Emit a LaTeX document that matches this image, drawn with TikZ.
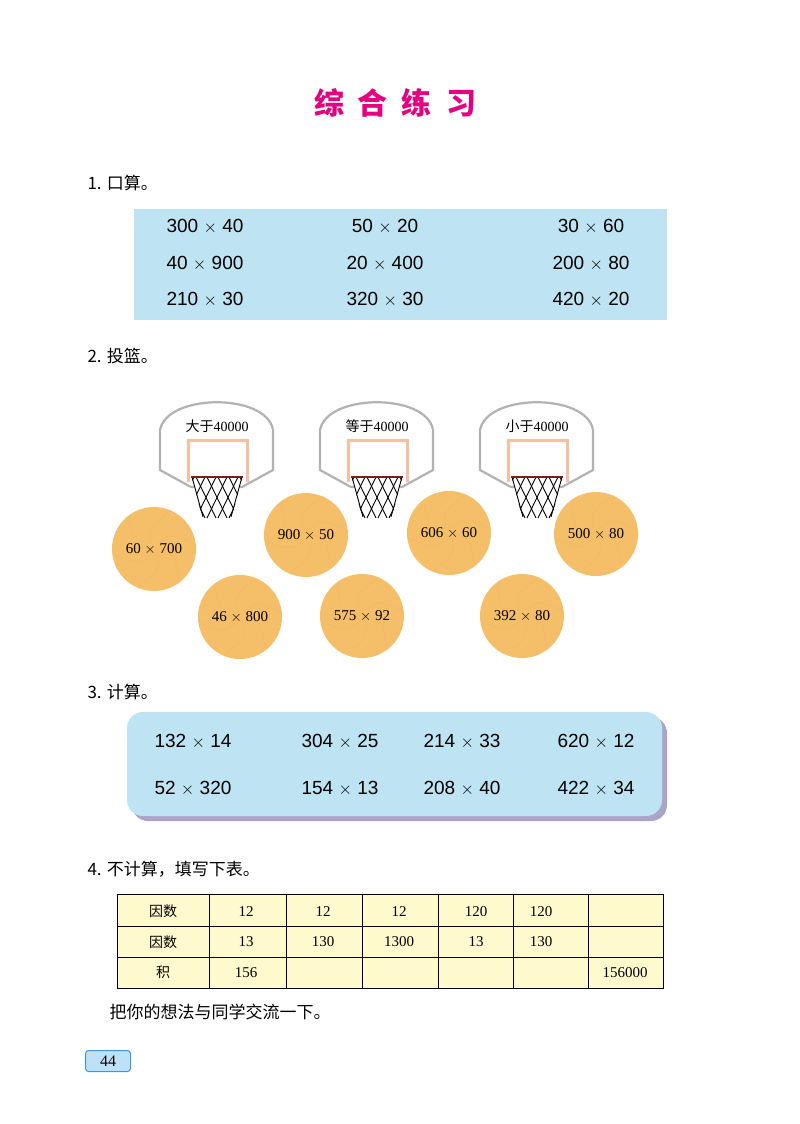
\documentclass[tikz,border=0pt]{standalone}
\usepackage{fontspec}
\setmainfont{Liberation Serif}
\setsansfont{Liberation Sans}
\newfontfamily\cjk{Noto Sans CJK SC}
\begin{document}
\begin{tikzpicture}[x=1pt,y=-1pt,
  sec/.style={anchor=west,font=\cjk\fontsize{17}{20}\selectfont},
  calc/.style={font=\sffamily\fontsize{19}{22}\selectfont},
  ball/.style={circle,fill=ballc,minimum size=84pt,inner sep=0pt},
  cell/.style={font=\fontsize{15}{18}\selectfont},
  hcell/.style={font=\cjk\fontsize{14}{16}\selectfont},
  board/.style={draw=gray!60,line width=2.2pt,fill=white}]
\definecolor{boxblue}{RGB}{190,228,243}
\definecolor{ballc}{RGB}{245,190,105}
\definecolor{tabc}{RGB}{255,250,205}
\definecolor{mag}{RGB}{228,0,127}
\useasboundingbox (0,0) rectangle (800,1124);
\node[font=\cjk\bfseries\fontsize{30}{34}\selectfont,text=mag] (title) at (395,103) {综\hspace{14pt}合\hspace{14pt}练\hspace{14pt}习};
\node[sec] (s1) at (84,183) {1. 口算。};
\fill[boxblue] (134,209) rectangle (667,320);
\node[calc] (a1) at (205,227) {300 $\times$ 40};
\node[calc] (a2) at (385,227) {50 $\times$ 20};
\node[calc] (a3) at (591,227) {30 $\times$ 60};
\node[calc] (a4) at (205,264) {40 $\times$ 900};
\node[calc] (a5) at (385,264) {20 $\times$ 400};
\node[calc] (a6) at (591,264) {200 $\times$ 80};
\node[calc] (a7) at (205,300) {210 $\times$ 30};
\node[calc] (a8) at (385,300) {320 $\times$ 30};
\node[calc] (a9) at (591,300) {420 $\times$ 20};
\node[sec] (s2) at (84,356) {2. 投篮。};
\foreach \cx/\t [count=\i] in {217/大于,377/等于,537/小于}{
  \draw[board] (\cx-57,470) -- (\cx-57,430) .. controls (\cx-50,393) and (\cx+50,393) .. (\cx+56,430) -- (\cx+56,470) -- (\cx+25,487) -- (\cx-26,487) -- cycle;
  \draw[draw={rgb,255:red,247;green,190;blue,160},line width=3pt] (\cx-29,482) -- (\cx-29,440) -- (\cx+30,440) -- (\cx+30,482);
  \node[font=\fontsize{14}{16}\selectfont] (b\i) at (\cx,426) {{\cjk\t}40000};
  \begin{scope}
    \clip (\cx-25.5,477) -- (\cx+25.5,477) -- (\cx+14.5,518) -- (\cx-14.5,518) -- cycle;
    \fill[white] (\cx-25.5,477) -- (\cx+25.5,477) -- (\cx+14.5,518) -- (\cx-14.5,518) -- cycle;
    \foreach \k in {-5,...,5}{
      \draw[line width=0.9pt] (\cx+\k*11-10,477) -- (\cx+\k*11+10,518);
      \draw[line width=0.9pt] (\cx+\k*11+10,477) -- (\cx+\k*11-10,518);
    }
  \end{scope}
  \draw[line width=0.9pt] (\cx-25,477) -- (\cx-14,517) (\cx+25,477) -- (\cx+14,517);
  \draw[draw={rgb,255:red,120;green,30;blue,30},line width=1.6pt] (\cx-26,477) -- (\cx+26,477);
}
\foreach \x/\y/\t [count=\i] in {154/549/60 $\times$ 700,240/617/46 $\times$ 800,306/535/900 $\times$ 50,362/616/575 $\times$ 92,449/533/606 $\times$ 60,522/616/392 $\times$ 80,596/534/500 $\times$ 80}{
  \node[ball] (ball\i) at (\x,\y) {};
  \foreach \a in {0,60,...,300}{
    \draw[ballc!80!brown,opacity=0.35,line width=0.5pt] (\x,\y) ++(\a:6) .. controls ++(\a+20:16) .. ++(\a+60:38);
  }
  \node[font=\fontsize{15}{18}\selectfont] (bt\i) at (\x,\y) {\t};
}
\node[sec] (s3) at (84,692) {3. 计算。};
\fill[rounded corners=16pt,fill={rgb,255:red,170;green,165;blue,200}] (132,717) rectangle (667,821);
\fill[rounded corners=16pt,boxblue] (127,712) rectangle (662,816);
\node[calc] (c1) at (193,742) {132 $\times$ 14};
\node[calc] (c2) at (340,742) {304 $\times$ 25};
\node[calc] (c3) at (462,742) {214 $\times$ 33};
\node[calc] (c4) at (596,742) {620 $\times$ 12};
\node[calc] (c5) at (193,789) {52 $\times$ 320};
\node[calc] (c6) at (340,789) {154 $\times$ 13};
\node[calc] (c7) at (462,789) {208 $\times$ 40};
\node[calc] (c8) at (596,789) {422 $\times$ 34};
\node[sec] (s4) at (84,869) {4. 不计算，填写下表。};
\fill[tabc] (117,894) rectangle (663,988);
\draw[line width=0.8pt] (117,894) rectangle (663,988);
\foreach \y in {926,957}{\draw[line width=0.8pt] (117,\y) -- (663,\y);}
\foreach \x in {209,286,362,438,513,588}{\draw[line width=0.8pt] (\x,894) -- (\x,988);}
\node[hcell] (r1) at (163,911) {因数};
\node[hcell] (r2) at (163,942) {因数};
\node[hcell] (r3) at (163,972) {积};
\node[cell] (t1) at (246,912) {12};
\node[cell] (t2) at (323,912) {12};
\node[cell] (t3) at (399,912) {12};
\node[cell] (t4) at (476,912) {120};
\node[cell] (t5) at (541,912) {120};
\node[cell] (u1) at (246,942) {13};
\node[cell] (u2) at (323,942) {130};
\node[cell] (u3) at (399,942) {1300};
\node[cell] (u4) at (476,942) {13};
\node[cell] (u5) at (541,942) {130};
\node[cell] (v1) at (246,973) {156};
\node[cell] (v6) at (625,973) {156000};
\node[anchor=west,font=\cjk\fontsize{17}{20}\selectfont] (talk) at (106,1012) {把你的想法与同学交流一下。};
\node[draw={rgb,255:red,60;green,150;blue,220},line width=1pt,fill={rgb,255:red,190;green,225;blue,250},rounded corners=3pt,minimum width=45pt,minimum height=21pt,inner sep=0pt,font=\fontsize{16}{18}\selectfont] (page) at (108,1061) {44};
\end{tikzpicture}
\end{document}
